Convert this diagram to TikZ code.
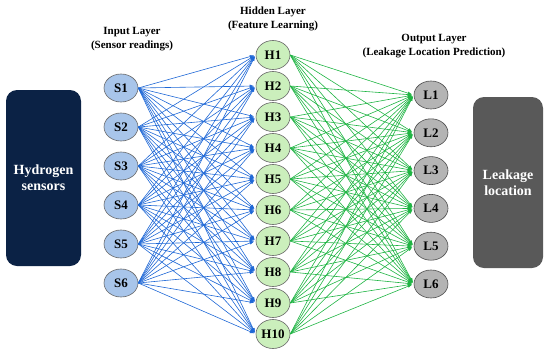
\documentclass[tikz,border=0pt]{standalone}
\usepackage{fontspec}
\setmainfont{Liberation Serif}
\usetikzlibrary{shapes.geometric,arrows.meta}

\definecolor{navybox}{HTML}{0B2245}
\definecolor{greybox}{HTML}{595959}
\definecolor{sensorfill}{HTML}{A8C5EA}
\definecolor{hiddenfill}{HTML}{CBEFBC}
\definecolor{outfill}{HTML}{B4B4B4}
\definecolor{bluelink}{HTML}{1F68D6}
\definecolor{greenlink}{HTML}{1FB443}

\begin{document}
\begin{tikzpicture}[x=1pt,y=1pt,
    neuron/.style={ellipse, draw=gray!80!black, line width=0.6pt, inner sep=0pt,
        minimum width=34pt, font=\bfseries\fontsize{13}{14}\selectfont},
    sensornode/.style={neuron, fill=sensorfill, minimum height=28pt},
    hiddennode/.style={neuron, fill=hiddenfill, minimum height=29pt},
    outnode/.style={neuron, fill=outfill, draw=gray!60!black, minimum height=28pt},
    sidebox/.style={rounded corners=11pt, text=white, align=center,
        font=\bfseries\fontsize{14}{16}\selectfont},
    layertitle/.style={align=center, font=\bfseries\fontsize{11}{14}\selectfont},
    link/.style={-{Latex[length=4.5pt,width=3.2pt]}, line width=0.6pt, shorten >=1.5pt}
]
    % Canvas
    \useasboundingbox (0,0) rectangle (550,-357);

    % Side boxes
    \fill[navybox, rounded corners=11pt] (6,-90) rectangle (81,-266);
    \node[sidebox] (hsens) at (43.5,-178) {Hydrogen\\sensors};
    \fill[greybox, rounded corners=11pt] (473,-97) rectangle (543,-268);
    \node[sidebox] (lloc) at (508,-183) {Leakage\\location};

    % Layer titles
    \node[layertitle] (tin) at (132,-39) {Input Layer\\(Sensor readings)};
    \node[layertitle] (thid) at (273,-19) {Hidden Layer\\(Feature Learning)};
    \node[layertitle] (tout) at (434,-46) {Output Layer\\(Leakage Location Prediction)};

    % Input layer
    \foreach \i in {1,...,6}
        \node[sensornode] (S\i) at (121,{-88-39*(\i-1)}) {S\i};

    % Hidden layer
    \foreach \j in {1,...,10}
        \node[hiddennode] (H\j) at (273,{-55-31*(\j-1)}) {H\j};

    % Output layer
    \foreach \k in {1,...,6}
        \node[outnode] (L\k) at (431,{-95-37.8*(\k-1)}) {L\k};

    % Input to hidden links
    \foreach \i in {1,...,6}
        \foreach \j in {1,...,10}
            \draw[link, bluelink] (S\i.east) -- (H\j.west);

    % Hidden to output links
    \foreach \j in {1,...,10}
        \foreach \k in {1,...,6}
            \draw[link, greenlink] (H\j.east) -- (L\k.west);
\end{tikzpicture}
\end{document}
